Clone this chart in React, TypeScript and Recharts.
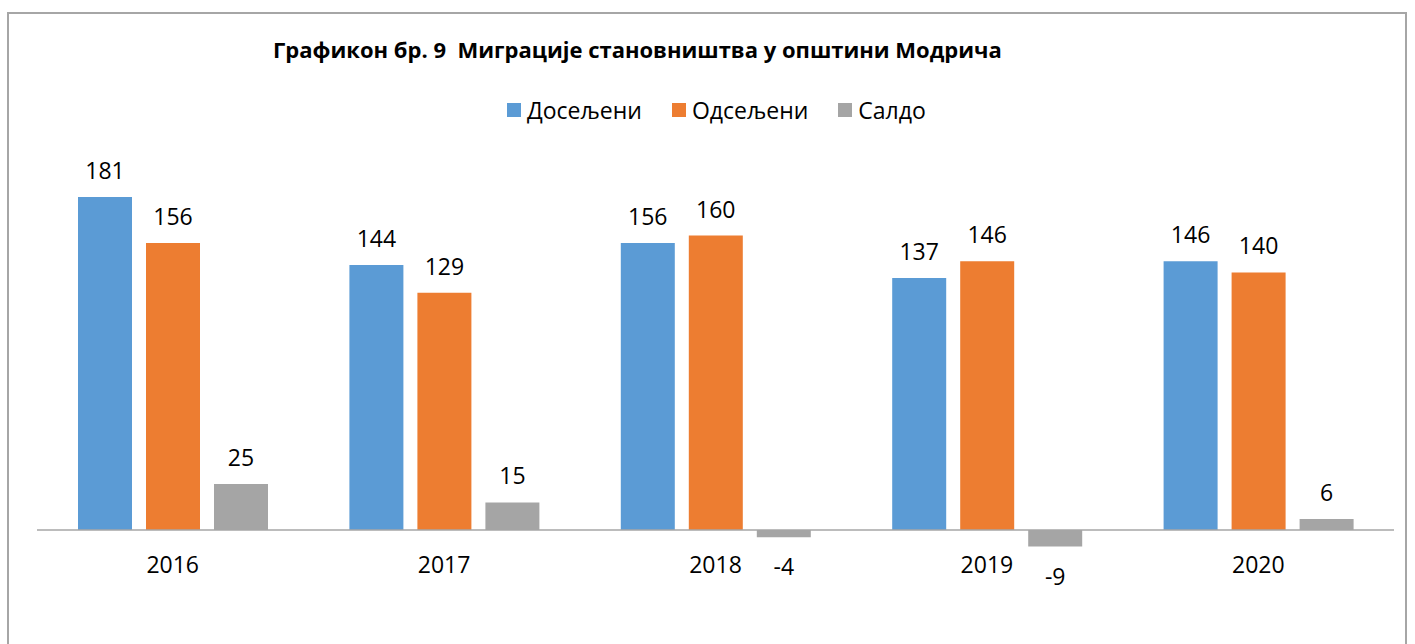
import { BarChart, Bar, XAxis, YAxis, ReferenceLine, LabelList } from "recharts"

const years = ["2016", "2017", "2018", "2019", "2020"]
const doseljeni = [181, 144, 156, 137, 146]
const odseljeni = [156, 129, 160, 146, 140]
const saldo = [25, 15, -4, -9, 6]

const seriesKeys = ["doseljeni", "odseljeni", "saldo"]
const seriesNames = ["Досељени", "Одсељени", "Салдо"]
const colors = ["#5b9bd5", "#ed7d31", "#a5a5a5"]

const title = "Графикон бр. 9  Миграције становништва у општини Модрича"

const data = years.map((year, i) => ({
  year,
  doseljeni: doseljeni[i],
  odseljeni: odseljeni[i],
  saldo: saldo[i],
}))

const font = '"Open Sans", sans-serif'
const textSize = 23

function ValueLabel(props: any) {
  const box = props.x !== undefined ? props : props.viewBox
  const { x, y, width, height } = box
  const value = props.value
  const top = Math.min(y, y + height)
  const bottom = Math.max(y, y + height)
  const ty = value < 0 ? bottom + 38 : top - 18
  return (
    <text x={x + width / 2} y={ty} textAnchor="middle" fill="#000" fontSize={textSize} fontFamily={font}>
      {value}
    </text>
  )
}

export default function App() {
  return (
    <div
      style={{
        position: "absolute",
        left: 7,
        top: 12,
        width: 1400,
        height: 640,
        border: "2px solid #a6a6a6",
        boxSizing: "border-box",
        background: "#fff",
        fontFamily: font,
      }}
    >
      <div
        style={{
          position: "absolute",
          left: 264,
          top: 24,
          fontSize: 22,
          fontWeight: 700,
          lineHeight: 1,
          whiteSpace: "pre",
          color: "#000",
        }}
      >
        {title}
      </div>
      <div
        style={{
          position: "absolute",
          left: 498,
          top: 82,
          display: "flex",
          alignItems: "center",
          fontSize: textSize,
          lineHeight: "28px",
          color: "#000",
        }}
      >
        {seriesNames.map((name, i) => (
          <div key={name} style={{ display: "flex", alignItems: "center", marginRight: 30 }}>
            <span style={{ width: 14, height: 14, background: colors[i], marginRight: 6, display: "inline-block" }} />
            <span>{name}</span>
          </div>
        ))}
      </div>
      <BarChart
        width={1396}
        height={628}
        data={data}
        margin={{ top: 166.4, right: 11, left: 28, bottom: 63.6 }}
        barSize={54}
        barGap={14}
      >
        <XAxis
          dataKey="year"
          axisLine={false}
          tickLine={false}
          interval={0}
          tick={{ fontSize: textSize, fill: "#000", fontFamily: font }}
        />
        <YAxis hide domain={[-10, 190]} />
        {seriesKeys.map((key, i) => (
          <Bar key={key} dataKey={key} name={seriesNames[i]} fill={colors[i]} isAnimationActive={false}>
            <LabelList dataKey={key} content={ValueLabel} />
          </Bar>
        ))}
        <ReferenceLine y={0} stroke="#a6a6a6" strokeWidth={1.5} />
      </BarChart>
    </div>
  )
}
